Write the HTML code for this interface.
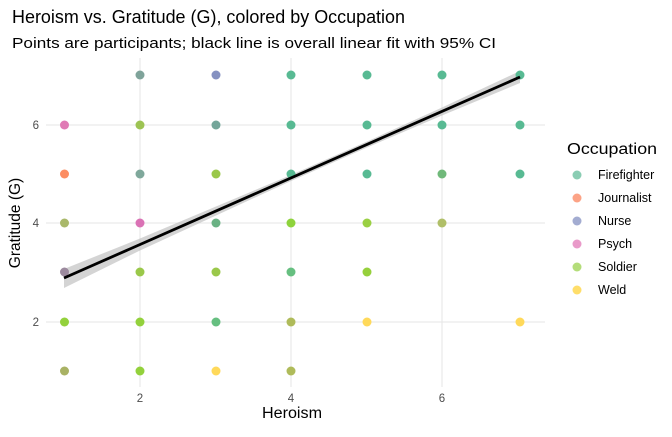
<!DOCTYPE html><html><head><style>body{margin:0;background:#fff}</style></head><body>
<svg width="672" height="432" xmlns="http://www.w3.org/2000/svg" font-family="Liberation Sans, sans-serif">
<rect width="672" height="432" fill="#fff"/>
<g stroke="#e6e6e6" stroke-width="1.1">
<line x1="140" y1="58" x2="140" y2="387"/><line x1="291" y1="58" x2="291" y2="387"/><line x1="442" y1="58" x2="442" y2="387"/>
<line x1="46" y1="125" x2="545" y2="125"/><line x1="46" y1="223" x2="545" y2="223"/><line x1="46" y1="322" x2="545" y2="322"/>
</g>
<polygon points="64,269 140,238.5 216,206.5 291,175 367,141.5 442,107.5 520,71 520,83 442,115.5 367,147.5 291,181 216,215.5 140,250.5 64,288" fill="#bdbdbd" opacity="0.65"/>
<g>
<circle cx="64.5" cy="125" r="4.5" fill="#E07BB5"/><circle cx="64.5" cy="174" r="4.5" fill="#FC8D62"/><circle cx="64.5" cy="223" r="4.5" fill="#A9B86A"/><circle cx="64.5" cy="272" r="4.5" fill="#9C8A9E"/><circle cx="64.5" cy="322" r="4.5" fill="#93D13C"/><circle cx="64.5" cy="371" r="4.5" fill="#A9B264"/>
<circle cx="140" cy="75" r="4.5" fill="#7FA39A"/><circle cx="140" cy="125" r="4.5" fill="#9DC353"/><circle cx="140" cy="174" r="4.5" fill="#7FA89B"/><circle cx="140" cy="223" r="4.5" fill="#DA72B5"/><circle cx="140" cy="272" r="4.5" fill="#9AC84A"/><circle cx="140" cy="322" r="4.5" fill="#93D13C"/><circle cx="140" cy="371" r="4.5" fill="#93D13C"/>
<circle cx="216" cy="75" r="4.5" fill="#8591C1"/><circle cx="216" cy="125" r="4.5" fill="#74A69A"/><circle cx="216" cy="174" r="4.5" fill="#9AC84A"/><circle cx="216" cy="223" r="4.5" fill="#6AB284"/><circle cx="216" cy="272" r="4.5" fill="#9AC84A"/><circle cx="216" cy="322" r="4.5" fill="#66BF80"/><circle cx="216" cy="371" r="4.5" fill="#FFD95A"/>
<circle cx="291" cy="75" r="4.5" fill="#58BA93"/><circle cx="291" cy="125" r="4.5" fill="#58BA93"/><circle cx="291" cy="174" r="4.5" fill="#58BA93"/><circle cx="291" cy="223" r="4.5" fill="#8ED33C"/><circle cx="291" cy="272" r="4.5" fill="#66BF80"/><circle cx="291" cy="322" r="4.5" fill="#AFBB5A"/><circle cx="291" cy="371" r="4.5" fill="#AFBB5A"/>
<circle cx="367" cy="75" r="4.5" fill="#58BA93"/><circle cx="367" cy="125" r="4.5" fill="#58BA93"/><circle cx="367" cy="174" r="4.5" fill="#58BA93"/><circle cx="367" cy="223" r="4.5" fill="#9AD043"/><circle cx="367" cy="272" r="4.5" fill="#96D03C"/><circle cx="367" cy="322" r="4.5" fill="#FFD95A"/>
<circle cx="442" cy="75" r="4.5" fill="#58BA93"/><circle cx="442" cy="125" r="4.5" fill="#58BA93"/><circle cx="442" cy="174" r="4.5" fill="#70B97A"/><circle cx="442" cy="223" r="4.5" fill="#B0BF68"/>
<circle cx="520" cy="75" r="4.5" fill="#58BA93"/><circle cx="520" cy="125" r="4.5" fill="#58BA93"/><circle cx="520" cy="174" r="4.5" fill="#58BA93"/><circle cx="520" cy="322" r="4.5" fill="#FFD95A"/>
</g>
<line x1="64" y1="278" x2="520" y2="77" stroke="#000" stroke-width="2.8"/>
<g font-size="11.5" fill="#4d4d4d">
<text x="140" y="402" text-anchor="middle">2</text><text x="291" y="402" text-anchor="middle">4</text><text x="442" y="402" text-anchor="middle">6</text>
<text x="39" y="129" text-anchor="end">6</text><text x="39" y="227" text-anchor="end">4</text><text x="39" y="326" text-anchor="end">2</text>
</g>
<text x="262" y="418" font-size="15.5" textLength="60" lengthAdjust="spacingAndGlyphs">Heroism</text>
<text transform="translate(20,223) rotate(-90)" font-size="15.5" text-anchor="middle">Gratitude (G)</text>
<text x="12" y="23" font-size="18" textLength="393" lengthAdjust="spacingAndGlyphs">Heroism vs. Gratitude (G), colored by Occupation</text>
<text x="12" y="48" font-size="15" textLength="484" lengthAdjust="spacingAndGlyphs">Points are participants; black line is overall linear fit with 95% CI</text>
<text x="567" y="154" font-size="15.5" textLength="90" lengthAdjust="spacingAndGlyphs">Occupation</text>
<g font-size="12.5">
<circle cx="577" cy="175" r="4.5" fill="#8ACDB3"/><text x="598" y="179">Firefighter</text>
<circle cx="577" cy="198" r="4.5" fill="#FCA386"/><text x="598" y="202">Journalist</text>
<circle cx="577" cy="221" r="4.5" fill="#A3ACD1"/><text x="598" y="225">Nurse</text>
<circle cx="577" cy="244" r="4.5" fill="#E99AC9"/><text x="598" y="248">Psych</text>
<circle cx="577" cy="267" r="4.5" fill="#B4DD7A"/><text x="598" y="271">Soldier</text>
<circle cx="577" cy="290" r="4.5" fill="#FFDE6A"/><text x="598" y="294">Weld</text>
</g>
</svg></body></html>
